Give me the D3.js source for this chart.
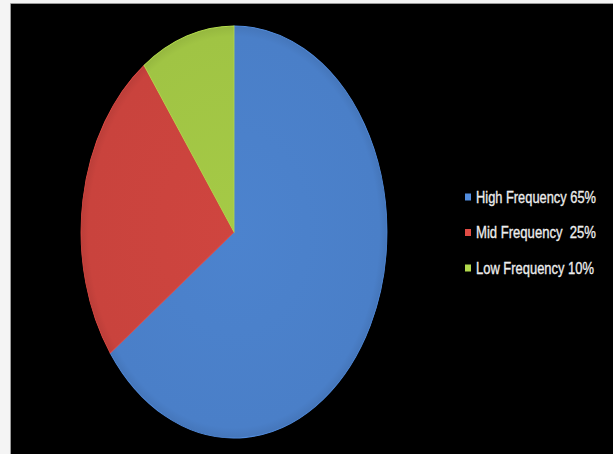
<!DOCTYPE html>
<html lang="en">
<head>
    <meta charset="UTF-8">
    <title>Frequency Share</title>
    <script src="https://d3js.org/d3.v7.min.js"></script>
    <style>
        html, body { margin: 0; padding: 0; background: #f4f4f4; }
        #canvas { display: block; }
        .legendText {
            font-family: "Liberation Sans", Arial, sans-serif;
            font-size: 12.6px;
            fill: #eeeeee;
            stroke: #eeeeee;
            stroke-width: 0.25px;
            white-space: pre;
        }
    </style>
</head>
<body>
    <svg id="canvas" width="613" height="454"></svg>
    <script>
        // chart values
        let categories = ['High Frequency', 'Mid Frequency', 'Low Frequency'];
        let shares = [65, 25, 10];
        let legendLabels = ['High Frequency 65%', 'Mid Frequency  25%', 'Low Frequency 10%'];
        let colors = ['#4a7fc8', '#c9433d', '#a0c444'];

        let svg = d3.select('#canvas');

        // black plot area, light frame on top and left
        svg.append('rect')
            .attr('x', 11).attr('y', 4)
            .attr('width', 602).attr('height', 450)
            .attr('fill', '#000');
        svg.append('line')
            .attr('x1', 10.5).attr('y1', 3.5).attr('x2', 10.5).attr('y2', 454)
            .attr('stroke', '#9a9a9a');
        svg.append('line')
            .attr('x1', 10.5).attr('y1', 3.5).attr('x2', 613).attr('y2', 3.5)
            .attr('stroke', '#9a9a9a');

        // pie squashed into an ellipse
        let r = 100;
        let rx = 153, ry = 206;
        let cx = 234, cy = 232;

        let pie = d3.pie().sort(null).value(function(d){ return d; });
        let arc = d3.arc().innerRadius(0).outerRadius(r);
        let arcs = pie(shares);

        let defs = svg.append('defs');
        colors.forEach(function(c, i){
            let g = defs.append('radialGradient')
                .attr('id', 'shade' + i)
                .attr('gradientUnits', 'userSpaceOnUse')
                .attr('cx', 0).attr('cy', 0).attr('r', r);
            g.append('stop').attr('offset', '0%').attr('stop-color', d3.color(c).brighter(0.08));
            g.append('stop').attr('offset', '95%').attr('stop-color', c);
            g.append('stop').attr('offset', '100%').attr('stop-color', d3.color(c).darker(0.2));
        });

        let pieG = svg.append('g')
            .attr('transform', 'translate(' + cx + ',' + cy + ') scale(' + (rx / r) + ',' + (ry / r) + ')');

        pieG.selectAll('path')
            .data(arcs)
            .enter()
            .append('path')
            .attr('d', arc)
            .attr('fill', function(d, i){ return 'url(#shade' + i + ')'; })
            .attr('stroke', function(d, i){ return d3.color(colors[i]).brighter(0.3); })
            .attr('stroke-width', 0.5);

        // legend
        let legend = svg.append('g').attr('id', 'legend');
        let rowY = d3.scalePoint().domain(categories).range([197, 268]);
        let textWidths = [120, 120, 118];

        let rows = legend.selectAll('g')
            .data(categories)
            .enter()
            .append('g')
            .attr('transform', function(d){ return 'translate(465,' + rowY(d) + ')'; });

        rows.append('rect')
            .attr('x', 0).attr('y', -3.5)
            .attr('width', 6).attr('height', 7)
            .attr('fill', function(d, i){ return d3.color(colors[i]).brighter(0.3); });

        rows.append('text')
            .attr('class', 'legendText')
            .attr('transform', 'translate(11,5.5) scale(1,1.3)')
            .attr('textLength', function(d, i){ return textWidths[i]; })
            .attr('lengthAdjust', 'spacingAndGlyphs')
            .text(function(d, i){ return legendLabels[i]; });
    </script>
</body>
</html>
